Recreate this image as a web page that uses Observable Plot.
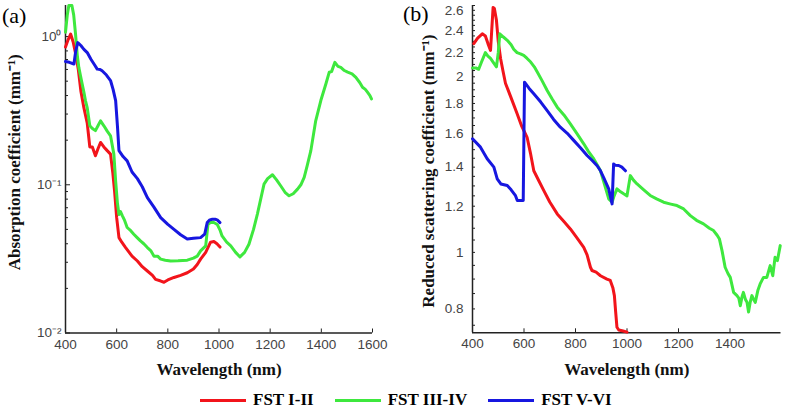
<!DOCTYPE html>
<html><head><meta charset="utf-8">
<script src="https://cdn.jsdelivr.net/npm/d3@7"></script>
<script src="https://cdn.jsdelivr.net/npm/@observablehq/plot@0.6"></script>
<style>
body{margin:0;background:#fff;}
#wrap{position:relative;width:785px;height:410px;overflow:hidden;background:#fff;}
#pa{position:absolute;left:0;top:0;}
#pb{position:absolute;left:390px;top:0;}
.plab{position:absolute;font-family:"Liberation Serif","Times New Roman",serif;font-size:22px;line-height:1;}
#legend{position:absolute;top:390px;left:200px;display:flex;align-items:center;font-family:"Liberation Serif","Times New Roman",serif;font-weight:bold;font-size:17px;}
.sw{display:inline-block;width:46px;height:3px;margin-right:7px;}
.it{display:flex;align-items:center;margin-right:21px;}
</style></head>
<body><div id="wrap">
<div id="pa"></div><div id="pb"></div>
<div class="plab" style="left:2px;top:5px">(a)</div>
<div class="plab" style="left:403px;top:3px">(b)</div>
<div id="legend"></div>
</div>
<script>
const seriesNames = ["FST I-II", "FST III-IV", "FST V-VI"];
const seriesColors = ["#f2141b", "#3ee83e", "#1717e0"];

// Panel (a): absorption coefficient (mm^-1)
const absWl1 = [400,410,420,430,440,450,460,472,485,495,505,517,527,537,550,563,576,585,592,600,609,620,635,660,681,700,720,740,752,770,785,800,824,850,876,900,915,928,948,967,980,992,1004];
const absVal1 = [0.85,0.95,1.04,0.92,0.76,0.6,0.43,0.33,0.26,0.18,0.18,0.157,0.175,0.193,0.18,0.17,0.161,0.12,0.09,0.06,0.044,0.041,0.0377,0.033,0.0306,0.028,0.0262,0.0245,0.023,0.0225,0.022,0.0228,0.0237,0.0245,0.0255,0.027,0.029,0.0315,0.035,0.041,0.0414,0.040,0.038];
const absWl2 = [400,407,413,425,432,439,446,452,458,465,472,478,485,495,505,517,527,537,550,563,576,589,596,603,609,615,622,630,641,655,667,680,693,706,720,733,746,760,772,790,811,840,876,900,915,928,948,957,967,980,993,1005,1012,1030,1046,1065,1082,1100,1117,1135,1150,1163,1176,1190,1209,1225,1241,1258,1274,1290,1307,1320,1333,1345,1359,1378,1398,1418,1431,1440,1453,1465,1476,1490,1503,1520,1535,1550,1561,1572,1581,1590,1596];
const absVal2 = [1.07,1.4,1.62,1.62,1.4,1.05,0.75,0.62,0.55,0.48,0.42,0.37,0.33,0.25,0.24,0.232,0.25,0.27,0.25,0.23,0.214,0.161,0.106,0.075,0.063,0.066,0.062,0.058,0.0515,0.049,0.0464,0.044,0.0418,0.04,0.0377,0.036,0.033,0.033,0.0315,0.031,0.0306,0.0307,0.031,0.032,0.033,0.0358,0.0387,0.0542,0.0556,0.0556,0.054,0.049,0.0452,0.041,0.0387,0.035,0.0326,0.035,0.0397,0.05,0.0634,0.08,0.101,0.11,0.1168,0.108,0.0985,0.089,0.0843,0.087,0.0935,0.1,0.112,0.135,0.17,0.27,0.37,0.48,0.575,0.58,0.67,0.63,0.62,0.59,0.575,0.56,0.53,0.49,0.455,0.44,0.42,0.4,0.38];
const absWl3 = [400,415,433,440,448,460,472,485,500,512,524,535,543,560,576,586,596,603,609,625,641,660,681,700,720,745,772,800,824,850,876,900,928,944,954,964,974,985,993,1004];
const absVal3 = [0.678,0.67,0.653,0.8,0.91,0.87,0.82,0.78,0.7,0.65,0.603,0.6,0.588,0.55,0.505,0.44,0.37,0.25,0.17,0.155,0.145,0.122,0.11,0.097,0.082,0.071,0.06,0.054,0.05,0.046,0.043,0.0435,0.044,0.0464,0.0556,0.058,0.0586,0.0585,0.058,0.0556];
const absXTicks = [400,600,800,1000,1200,1400,1600];
const absYTicks = [0.01,0.1,1];

// Panel (b): reduced scattering coefficient (mm^-1)
const scaWl1 = [405,420,438,450,460,470,480,485,493,500,509,518,528,550,573,590,612,625,638,657,677,700,729,755,780,805,832,845,858,864,880,897,922,935,945,951,956,961,968,985,1000];
const scaVal1 = [2.28,2.33,2.37,2.35,2.28,2.22,2.63,2.62,2.5,2.3,2.15,2.05,1.95,1.84,1.73,1.65,1.575,1.48,1.38,1.328,1.276,1.22,1.164,1.13,1.097,1.06,1.02,0.99,0.943,0.931,0.925,0.912,0.90,0.895,0.87,0.843,0.79,0.744,0.736,0.733,0.73];
const scaWl2 = [400,415,424,435,450,460,470,480,493,500,506,520,535,550,560,573,586,599,612,626,640,651,670,690,710,729,755,780,805,832,850,871,885,897,910,929,942,950,961,975,987,1000,1013,1025,1039,1065,1090,1115,1142,1170,1194,1220,1246,1270,1297,1320,1336,1350,1359,1369,1381,1392,1401,1414,1427,1434,1440,1447,1452,1460,1466,1472,1478,1485,1492,1498,1508,1517,1530,1543,1556,1566,1575,1584,1595];
const scaVal2 = [2.07,2.07,2.06,2.12,2.2,2.17,2.15,2.12,2.08,2.2,2.37,2.34,2.31,2.27,2.23,2.2,2.19,2.176,2.15,2.12,2.08,2.04,1.97,1.895,1.83,1.774,1.72,1.66,1.6,1.535,1.49,1.446,1.41,1.38,1.32,1.235,1.219,1.25,1.285,1.27,1.26,1.25,1.354,1.33,1.31,1.28,1.252,1.235,1.219,1.21,1.203,1.187,1.156,1.135,1.119,1.1,1.09,1.07,1.054,1.007,0.943,0.92,0.906,0.854,0.843,0.835,0.81,0.84,0.854,0.83,0.821,0.79,0.82,0.843,0.83,0.821,0.86,0.883,0.906,0.906,0.949,0.912,0.981,0.968,1.027];
const scaWl3 = [400,431,457,483,496,510,535,550,567,574,597,602,620,638,665,690,715,741,768,793,820,845,865,884,897,909,929,942,948,955,968,980,994];
const scaVal3 = [1.566,1.515,1.447,1.4,1.337,1.31,1.302,1.28,1.251,1.227,1.227,1.958,1.91,1.87,1.81,1.75,1.69,1.639,1.6,1.556,1.51,1.466,1.437,1.408,1.38,1.345,1.285,1.211,1.418,1.41,1.409,1.4,1.38];
const scaXTicks = [400,600,800,1000,1200,1400];
const scaYTicks = [0.8,1,1.2,1.4,1.6,1.8,2,2.2,2.4,2.6];

function rows(wl, val, s) { return wl.map((w, i) => ({wl: w, v: val[i], s})); }
const absData = [...rows(absWl1, absVal1, seriesNames[0]), ...rows(absWl2, absVal2, seriesNames[1]), ...rows(absWl3, absVal3, seriesNames[2])];
const scaData = [...rows(scaWl1, scaVal1, seriesNames[0]), ...rows(scaWl2, scaVal2, seriesNames[1]), ...rows(scaWl3, scaVal3, seriesNames[2])];

const absMinor = [];
for (const d of [0.01, 0.1, 1]) for (let k = 2; k <= 9; k++) { const t = d * k; if (t < 1.6) absMinor.push(+t.toPrecision(3)); }
const scaMinor = d3.range(15, 54).map(k => k * 0.05);

const sup = {"-": "⁻", "0": "⁰", "1": "¹", "2": "²"};
const fmtPow = d => "10" + String(Math.round(Math.log10(d))).split("").map(c => sup[c]).join("");

const tickFont = {fontFamily: "Liberation Sans, Arial, sans-serif", fontSize: 13.5, fill: "#444"};
const labFont = {fontFamily: "Liberation Serif, Times New Roman, serif", fontWeight: "bold", fontSize: 17, fill: "#111", textAnchor: "middle", lineAnchor: "middle"};
const colorScale = {domain: seriesNames, range: seriesColors};

const pa = Plot.plot({
  width: 390, height: 385,
  marginLeft: 65, marginRight: 18, marginTop: 5, marginBottom: 52.5,
  style: {background: "transparent", overflow: "visible"},
  x: {domain: [400, 1600]},
  y: {type: "log", domain: [0.01, 1.62]},
  color: colorScale,
  marks: [
    Plot.axisX(absXTicks, {tickSize: 0, tickPadding: 6, tickFormat: d => String(d), ...tickFont, label: null}),
    Plot.axisX(absXTicks, {tickSize: -4, fill: "none", stroke: "#222", label: null}),
    Plot.axisY(absYTicks, {tickSize: 0, tickPadding: 4, tickFormat: fmtPow, ...tickFont, label: null}),
    Plot.axisY(absYTicks, {tickSize: -5, fill: "none", stroke: "#222", label: null}),
    Plot.axisY(absMinor, {tickSize: -3, fill: "none", stroke: "#222", label: null}),
    Plot.ruleY([0.01], {stroke: "#222", strokeWidth: 1.5}),
    Plot.ruleX([400], {stroke: "#222", strokeWidth: 1.5}),
    Plot.line(absData, {x: "wl", y: "v", z: "s", stroke: "s", strokeWidth: 3, curve: "linear"}),
    Plot.text(["Wavelength (nm)"], {frameAnchor: "bottom", dy: 37, ...labFont}),
    Plot.text(["Absorption coefficient (mm⁻¹)"], {frameAnchor: "left", rotate: -90, dx: -51, dy: -7, ...labFont})
  ]
});
document.getElementById("pa").appendChild(pa);

const pb = Plot.plot({
  width: 395, height: 385,
  marginLeft: 82, marginRight: 4.5, marginTop: 5, marginBottom: 52.7,
  style: {background: "transparent", overflow: "visible"},
  x: {domain: [400, 1598]},
  y: {type: "log", domain: [0.728, 2.65]},
  color: colorScale,
  marks: [
    Plot.axisX(scaXTicks, {tickSize: 0, tickPadding: 6, tickFormat: d => String(d), ...tickFont, label: null}),
    Plot.axisX(scaXTicks, {tickSize: -4, fill: "none", stroke: "#222", label: null}),
    Plot.axisY(scaYTicks, {tickSize: 0, tickPadding: 9, tickFormat: d => String(d), ...tickFont, label: null}),
    Plot.axisY(scaMinor, {tickSize: -3, fill: "none", stroke: "#222", label: null}),
    Plot.ruleY([0.728], {stroke: "#222", strokeWidth: 1.5}),
    Plot.ruleX([400], {stroke: "#222", strokeWidth: 1.5}),
    Plot.line(scaData, {x: "wl", y: "v", z: "s", stroke: "s", strokeWidth: 3, curve: "linear"}),
    Plot.text(["Wavelength (nm)"], {frameAnchor: "bottom", dy: 37, ...labFont}),
    Plot.text(["Reduced scattering coefficient (mm⁻¹)"], {frameAnchor: "left", rotate: -90, dx: -44, dy: 2, ...labFont})
  ]
});
document.getElementById("pb").appendChild(pb);

const leg = document.getElementById("legend");
seriesNames.forEach((n, i) => {
  const it = document.createElement("span"); it.className = "it";
  const sw = document.createElement("span"); sw.className = "sw"; sw.style.background = seriesColors[i];
  it.appendChild(sw); it.appendChild(document.createTextNode(n));
  leg.appendChild(it);
});
</script></body></html>
